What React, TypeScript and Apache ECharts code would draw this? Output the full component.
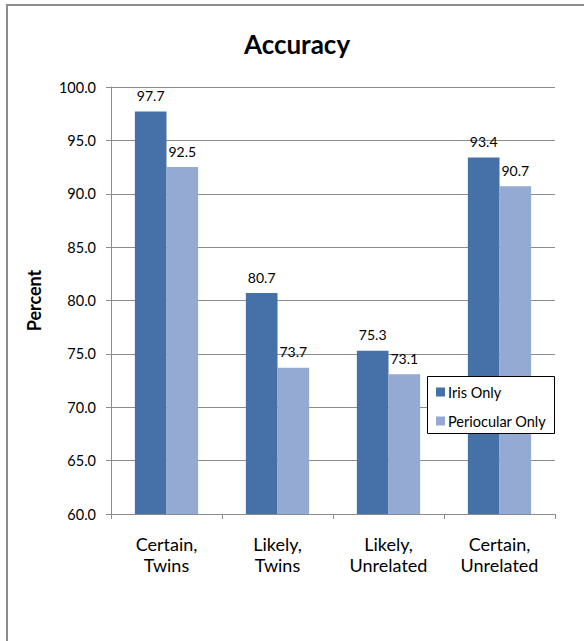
import React, { useEffect, useRef } from "react";
import * as echarts from "echarts";

// Accuracy by match category, for iris-only vs periocular-only comparisons
const categories = ["Certain,\nTwins", "Likely,\nTwins", "Likely,\nUnrelated", "Certain,\nUnrelated"];
const irisOnly = [97.7, 80.7, 75.3, 93.4];
const periocularOnly = [92.5, 73.7, 73.1, 90.7];
const seriesNames = ["Iris Only", "Periocular Only"];
const yMin = 60;
const yMax = 100;
const yStep = 5;

const FONT = "Lato, 'Open Sans', 'DejaVu Sans', sans-serif";
const DARK = "#4571a8";
const LIGHT = "#94aad3";
const GRID_GRAY = "#8c8c8c";

export default function App() {
  const ref = useRef<HTMLDivElement>(null);

  useEffect(() => {
    if (!ref.current) return;
    const chart = echarts.init(ref.current, null, { renderer: "svg" });

    const labelStyle = {
      show: true,
      position: "top" as const,
      distance: 9,
      color: "#000",
      fontFamily: FONT,
      fontSize: 14,
      formatter: (p: any) => Number(p.value).toFixed(1),
    };

    chart.setOption({
      animation: false,
      backgroundColor: "#fff",
      textStyle: { fontFamily: FONT },
      grid: { left: 111, right: 29, top: 87, bottom: 127 },
      graphic: [
        {
          type: "rect",
          z: 0,
          silent: true,
          shape: { x: 7, y: 5, width: 900, height: 900 },
          style: { fill: "none", stroke: GRID_GRAY, lineWidth: 2 },
        },
        {
          type: "text",
          z: 10,
          x: 297,
          y: 44,
          style: {
            text: "Accuracy",
            fontFamily: FONT,
            fontSize: 26,
            fontWeight: "bold",
            fill: "#000",
            textAlign: "center",
            textVerticalAlign: "middle",
          },
        },
        {
          type: "rect",
          z: 50,
          silent: true,
          shape: { x: 427.5, y: 376.5, width: 127, height: 57 },
          style: { fill: "#fff", stroke: "#000", lineWidth: 1 },
        },
      ],
      legend: {
        z: 60,
        orient: "vertical",
        left: 427,
        top: 376,
        padding: [8.5, 8, 5.5, 9],
        itemWidth: 9,
        itemHeight: 9,
        itemGap: 14,
        icon: "rect",
        data: seriesNames,
        textStyle: { fontFamily: FONT, fontSize: 14.5, lineHeight: 15, color: "#000", padding: [0, 0, 0, -2] },
      },
      xAxis: {
        type: "category",
        data: categories,
        axisLine: { show: true, lineStyle: { color: GRID_GRAY, width: 1 } },
        axisTick: { show: true, length: 5, alignWithLabel: false, lineStyle: { color: GRID_GRAY } },
        axisLabel: {
          margin: 19,
          color: "#000",
          fontFamily: FONT,
          fontSize: 18,
          lineHeight: 21,
          interval: 0,
        },
      },
      yAxis: {
        type: "value",
        min: yMin,
        max: yMax,
        interval: yStep,
        name: "Percent",
        nameLocation: "middle",
        nameGap: 68,
        nameTextStyle: { fontFamily: FONT, fontSize: 18, fontWeight: "bold", color: "#000" },
        axisLine: { show: true, lineStyle: { color: GRID_GRAY, width: 1 } },
        axisTick: { show: true, length: 5, inside: false, lineStyle: { color: GRID_GRAY } },
        splitLine: { show: true, lineStyle: { color: GRID_GRAY, width: 1 } },
        axisLabel: {
          margin: 15,
          color: "#000",
          fontFamily: FONT,
          fontSize: 14.5,
          formatter: (v: number) => v.toFixed(1),
        },
      },
      series: [
        {
          name: seriesNames[0],
          type: "bar",
          data: irisOnly,
          itemStyle: { color: DARK },
          barGap: "0%",
          barCategoryGap: "43%",
          label: labelStyle,
        },
        {
          name: seriesNames[1],
          type: "bar",
          data: periocularOnly,
          itemStyle: { color: LIGHT },
          barGap: "0%",
          barCategoryGap: "43%",
          label: labelStyle,
        },
      ],
    });

    return () => chart.dispose();
  }, []);

  return (
    <div
      ref={ref}
      style={{ position: "fixed", left: 0, top: 0, width: 584, height: 641, background: "#fff" }}
    />
  );
}
